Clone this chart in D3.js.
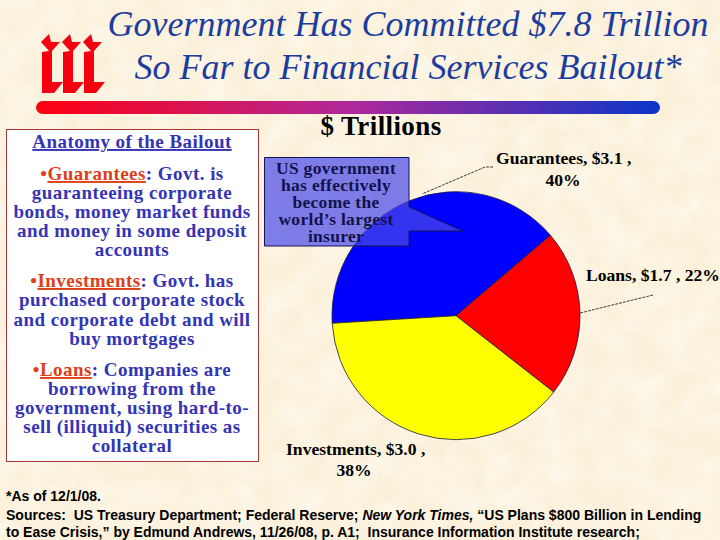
<!DOCTYPE html>
<html><head><meta charset="utf-8">
<script src="https://d3js.org/d3.v7.min.js"></script>
<style>
html,body{margin:0;padding:0;background:#fbf0d9;overflow:hidden}
svg{display:block}
text{white-space:pre}
.serif{font-family:"Liberation Serif",serif}
.sans{font-family:"Liberation Sans",sans-serif}
</style></head><body><svg id="c" width="720" height="540"></svg>
<script>
const categories = ["Guarantees","Loans","Investments"];
const values = [3.1,1.7,3.0];
const percents = [40,22,38];
const colors = ["#0000ff","#ff0000","#ffff00"];
const titleLines = ["Government Has Committed $7.8 Trillion","So Far to Financial Services Bailout*"];
const panelHeading = "Anatomy of the Bailout";
const panelBlocks = [
 {key:"Guarantees",after:": Govt. is",rest:["guaranteeing corporate","bonds, money market funds","and money in some deposit","accounts"],y:[180,199,218,237,256]},
 {key:"Investments",after:": Govt. has",rest:["purchased corporate stock","and corporate debt and will","buy mortgages"],y:[287,306,326,345]},
 {key:"Loans",after:": Companies are",rest:["borrowing from the","government, using hard-to-","sell (illiquid) securities as","collateral"],y:[376,395,414,433,452]}
];
const calloutLines = ["US government","has effectively","become the","world\u2019s largest","insurer"];

const svg = d3.select("#c");
const defs = svg.append("defs");
const tex = defs.append("filter").attr("id","tex").attr("x",0).attr("y",0).attr("width","100%").attr("height","100%");
tex.append("feTurbulence").attr("type","fractalNoise").attr("baseFrequency","0.035").attr("numOctaves",3).attr("seed",7);
tex.append("feColorMatrix").attr("values","0 0 0 0 1  0 0 0 0 0.985  0 0 0 0 0.93  1.2 0 0 0 -0.42");
const grad = defs.append("linearGradient").attr("id","bar");
[[0,"#ff0010"],[0.5,"#b0289a"],[1,"#0a36c8"]].forEach(s=>grad.append("stop").attr("offset",s[0]).attr("stop-color",s[1]));

svg.append("rect").attr("width",720).attr("height",540).attr("fill","#fbf0d9");
svg.append("rect").attr("width",720).attr("height",540).attr("filter","url(#tex)");

// title
svg.append("g").selectAll("text").data(titleLines).join("text").attr("class","serif")
 .attr("x",408).attr("y",(d,i)=>[36,79][i]).attr("text-anchor","middle")
 .attr("font-style","italic").attr("font-size",36).attr("fill","#1c3d9e").text(d=>d);

// logo
const logo = svg.append("g").attr("fill","#f5000f");
[0,21,42].forEach(dx=>logo.append("path").attr("transform",`translate(${dx},0)`)
 .attr("d","M49,34 L51,42 L60,42 L52,51 L52,82 L63,82 L54,93 L42,93 L42,52 L49,51 L41,42 Z"));
svg.append("rect").attr("x",36).attr("y",101).attr("width",624).attr("height",13).attr("rx",6.5).attr("fill","url(#bar)");

// left panel
svg.append("rect").attr("x",6.5).attr("y",129.5).attr("width",252).attr("height",332)
 .attr("fill","#fff").attr("stroke","#a83838").attr("stroke-width",1);
const cx=132, blue="#3434b4", orange="#dc4018";
const P = svg.append("g").attr("class","serif").attr("font-weight","bold").attr("font-size",19).attr("letter-spacing",0.45).attr("text-anchor","middle").attr("fill",blue);
P.append("text").attr("x",cx).attr("y",148).attr("text-decoration","underline").text(panelHeading);
panelBlocks.forEach(b=>{
  const t=P.append("text").attr("x",cx).attr("y",b.y[0]);
  t.append("tspan").attr("fill",orange).text("\u2022");
  t.append("tspan").attr("fill",orange).attr("text-decoration","underline").text(b.key);
  t.append("tspan").text(b.after);
  b.rest.forEach((l,i)=>t.append("tspan").attr("x",cx).attr("y",b.y[i+1]).text(l));
});

// heading
svg.append("text").attr("class","serif").attr("x",381).attr("y",135).attr("text-anchor","middle")
 .attr("font-weight","bold").attr("font-size",27).attr("letter-spacing",0.4).attr("fill","#000").text("$ Trillions");

// pie
const start=-93.5*Math.PI/180;
const pie=d3.pie().sort(null).startAngle(start).endAngle(start+2*Math.PI);
const arc=d3.arc().innerRadius(0).outerRadius(124);
const g=svg.append("g").attr("transform","translate(456,315.7)");
g.selectAll("path").data(pie(values)).join("path").attr("d",arc)
 .attr("fill",(d,i)=>colors[i]).attr("stroke","#1a1a40").attr("stroke-width",0.8);

// leader lines
const leaders=[[[493,167],[485,167],[422,194]],[[653,295],[580,313]]];
svg.append("g").selectAll("path").data(leaders).join("path").attr("d",d3.line())
 .attr("fill","none").attr("stroke","#111").attr("stroke-width",0.8).attr("stroke-dasharray","3 1");

// callout
svg.append("path").attr("d","M264.5,157.5 H409 V207 L463,231 H409 V246 H264.5 Z")
 .attr("fill","rgba(73,73,233,0.7)").attr("stroke","#14145a").attr("stroke-width",1);
const ct=svg.append("text").attr("class","serif").attr("text-anchor","middle").attr("font-weight","bold")
 .attr("font-size",17.5).attr("letter-spacing",0.3).attr("fill","#12124a");
calloutLines.forEach((l,i)=>ct.append("tspan").attr("x",336).attr("y",174+i*17.1).text(l));

// slice labels
const lab=i=>`${categories[i]}, $${values[i].toFixed(1)} ,`;
const L=svg.append("g").attr("class","serif").attr("font-weight","bold").attr("font-size",17.6).attr("fill","#000");
L.append("text").attr("x",496).attr("y",164).text(lab(0));
L.append("text").attr("x",563).attr("y",186).attr("text-anchor","middle").text(percents[0]+"%");
L.append("text").attr("x",586).attr("y",281).text(lab(1)+" "+percents[1]+"%");
L.append("text").attr("x",286).attr("y",455).text(lab(2));
L.append("text").attr("x",354).attr("y",476).attr("text-anchor","middle").text(percents[2]+"%");

// footnotes
const F=svg.append("g").attr("class","sans").attr("font-size",14).attr("font-weight","bold").attr("fill","#000");
F.append("text").attr("x",6).attr("y",501).text("*As of 12/1/08.");
const s=F.append("text").attr("x",6).attr("y",520);
s.append("tspan").text("Sources:  US Treasury Department; Federal Reserve; ");
s.append("tspan").attr("font-style","italic").text("New York Times,");
s.append("tspan").text(" \u201cUS Plans $800 Billion in Lending");
F.append("text").attr("x",6).attr("y",537).text("to Ease Crisis,\u201d by Edmund Andrews, 11/26/08, p. A1;  Insurance Information Institute research;");
</script></body></html>
